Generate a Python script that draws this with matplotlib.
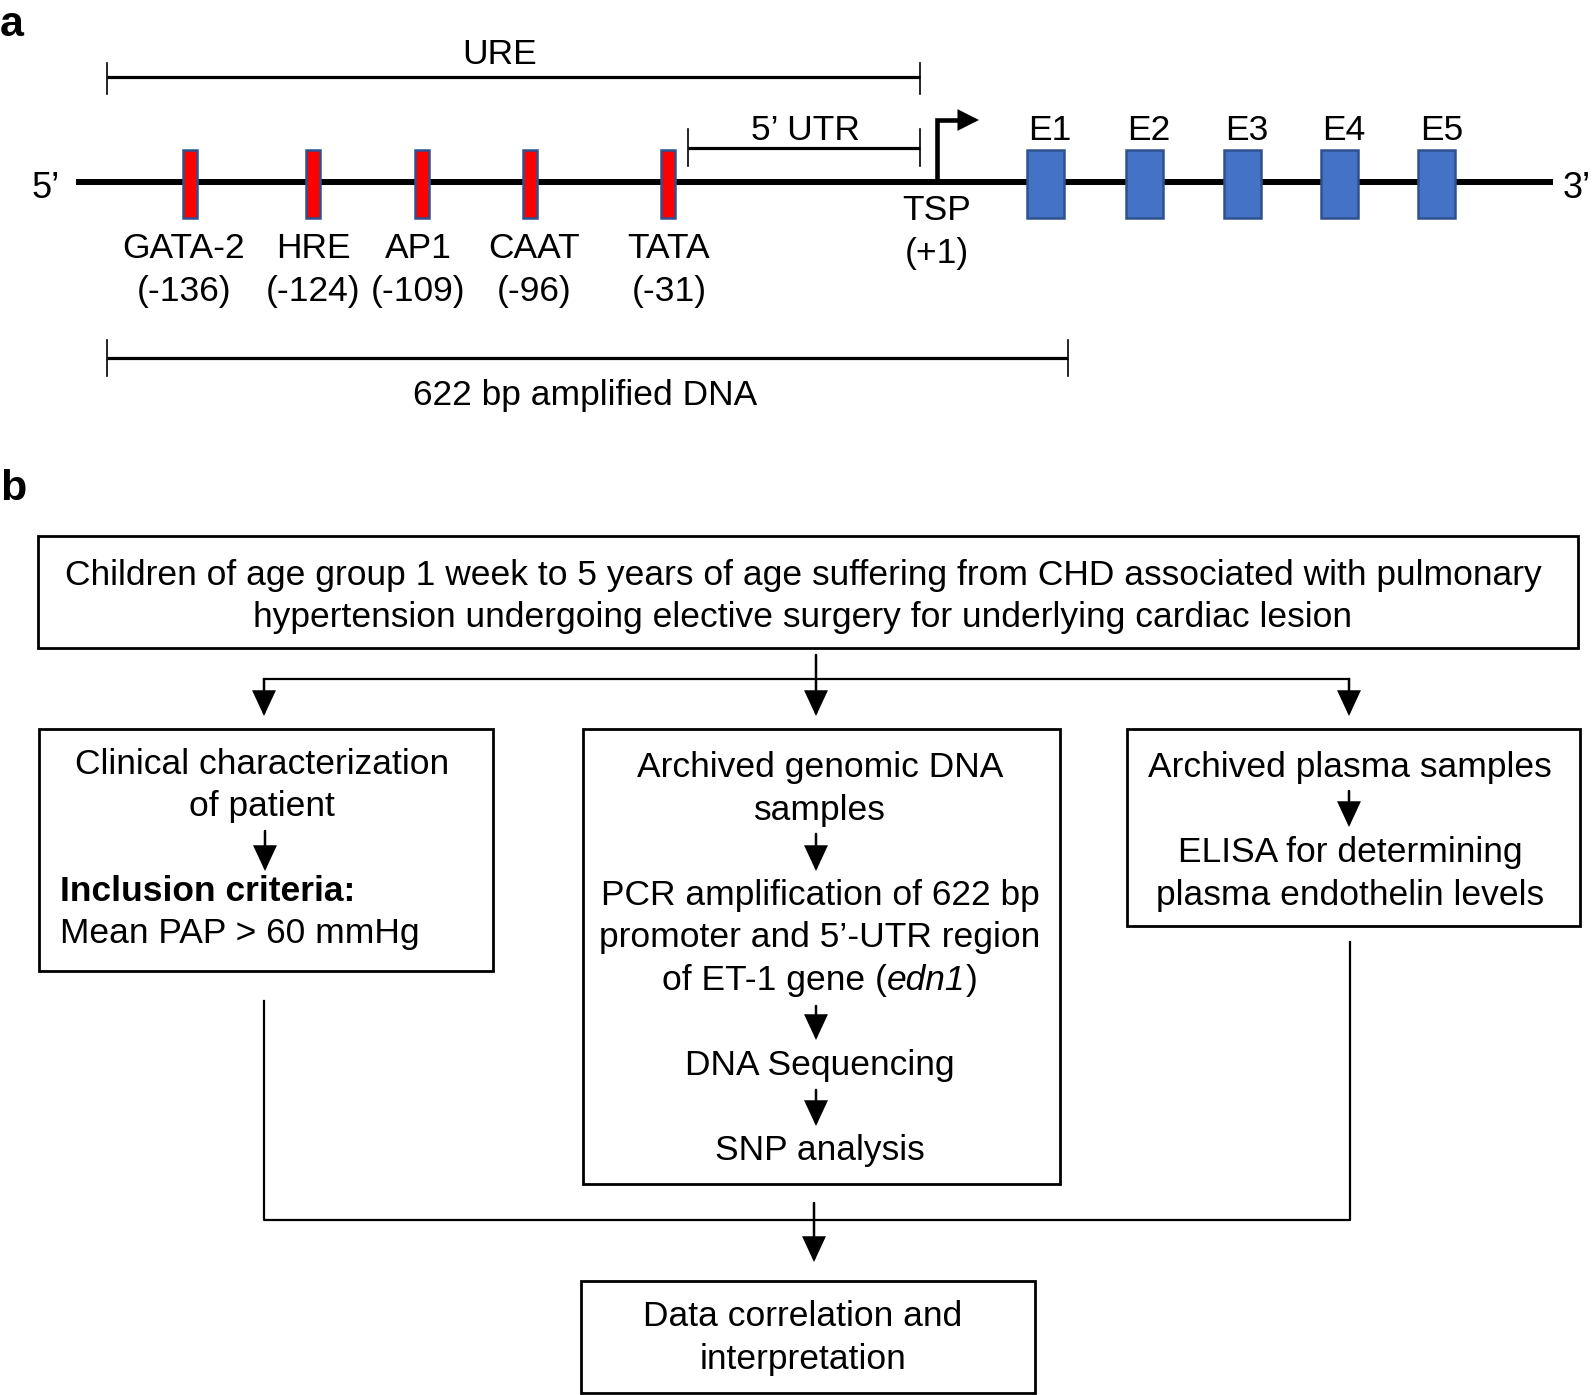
import matplotlib
matplotlib.use("Agg")
import matplotlib.pyplot as plt
from matplotlib.patches import Rectangle, FancyArrowPatch

plt.rcParams['font.family'] = ['Liberation Sans', 'DejaVu Sans']

# ---- data ----
elements = ["GATA-2", "HRE", "AP1", "CAAT", "TATA"]
element_pos = ["(-136)", "(-124)", "(-109)", "(-96)", "(-31)"]
exons = ["E1", "E2", "E3", "E4", "E5"]
top_text = ["Children of age group 1 week to 5 years of age suffering from CHD associated with pulmonary",
            "hypertension undergoing elective surgery for underlying cardiac lesion"]
left_text = ["Clinical characterization", "of patient"]
incl_title = "Inclusion criteria:"
incl_text = "Mean PAP > 60 mmHg"
mid_text1 = ["Archived genomic DNA", "samples"]
mid_text2 = ["PCR amplification of 622 bp", "promoter and 5\u2019-UTR region"]
mid_text2_last = [("of ET-1 gene (", "normal"), ("edn1", "italic"), (")", "normal")]
mid_text3 = "DNA Sequencing"
mid_text4 = "SNP analysis"
right_text1 = "Archived plasma samples"
right_text2 = ["ELISA for determining", "plasma endothelin levels"]
bottom_text = ["Data correlation and", "interpretation"]

# ---- layout (pixel coordinates) ----
W, H = 1594, 1395
fig = plt.figure(figsize=(W / 100, H / 100), dpi=100)
ax = fig.add_axes([0, 0, 1, 1])
ax.set_xlim(0, W)
ax.set_ylim(H, 0)
ax.axis('off')

FS = 25.5
DY = 2.5
elem_x = [190, 313, 422, 530, 668]
elem_lab_x = [184, 313, 418, 534, 669]
exon_x = [1046, 1145, 1243, 1340, 1437]
exon_lab_x = [1050, 1149, 1247, 1344, 1442]

def txt(x, y, s, ha='center', **kw):
    return ax.text(x, y + DY, s, ha=ha, va='center', fontsize=kw.pop('fs', FS), **kw)

def mixed(xc, y, parts):
    fig.canvas.draw()
    r = fig.canvas.get_renderer()
    objs = [txt(0, y, s, ha='left', style=st) for s, st in parts]
    widths = [o.get_window_extent(renderer=r).width for o in objs]
    x = xc - sum(widths) / 2
    for o, w in zip(objs, widths):
        o.set_x(x)
        x += w

def bracket(x0, x1, y, t0, t1, lw=2.3):
    ax.plot([x0, x1], [y, y], color='black', lw=lw, solid_capstyle='butt')
    for x in (x0, x1):
        ax.plot([x, x], [t0, t1], color='black', lw=1.2)

def arrow(x, y0, y1, lw=1.8):
    ax.add_patch(FancyArrowPatch((x, y0), (x, y1), arrowstyle='-|>,head_length=1.55,head_width=0.72',
                                 mutation_scale=10, lw=lw, color='black', shrinkA=0, shrinkB=0,
                                 joinstyle='miter'))

def box(x0, y0, x1, y1):
    ax.add_patch(Rectangle((x0, y0), x1 - x0, y1 - y0, fill=False, ec='black', lw=2.0))

# Panel a
txt(0, 22, "a", ha='left', fontweight='bold', fs=31)
bracket(107, 920, 77, 63, 94)
txt(500, 52, "URE")
bracket(688, 920, 148, 129, 166)
txt(805, 128, "5\u2019 UTR")
ax.plot([76, 1553], [182, 182], color='black', lw=4.3, solid_capstyle='butt', zorder=1)
txt(46, 186, "5\u2019", fs=26)
txt(1577, 186, "3\u2019", fs=26)
for x, lab, pos, lx in zip(elem_x, elements, element_pos, elem_lab_x):
    ax.add_patch(Rectangle((x - 7, 150), 14, 68, fc='#ff0000', ec='#2f528f', lw=1.8, zorder=2))
    txt(lx, 246, lab)
    txt(lx, 289, pos)
for x, lab, lx in zip(exon_x, exons, exon_lab_x):
    ax.add_patch(Rectangle((x - 18.5, 150), 37, 68, fc='#4472c4', ec='#2f528f', lw=1.8, zorder=2))
    txt(lx, 128, lab)
# TSP arrow
ax.plot([937.5, 937.5, 962], [182, 120, 120], color='black', lw=3.3, solid_joinstyle='miter')
ax.add_patch(FancyArrowPatch((956, 120), (979, 120), arrowstyle='-|>,head_length=1.55,head_width=0.78',
                             mutation_scale=10, lw=0, color='black', shrinkA=0, shrinkB=0))
txt(937, 208, "TSP")
txt(937, 251, "(+1)")
bracket(107, 1068, 358, 340, 376)
txt(585, 393, "622 bp amplified DNA")

# Panel b
txt(0, 487, "b", ha='left', fontweight='bold', fs=31)
box(38, 536, 1578, 648)
txt(803, 573, top_text[0])
txt(803, 615, top_text[1])

# split
ax.plot([264, 1349], [679, 679], color='black', lw=1.6)
arrow(816, 655, 716)
arrow(264, 679, 716)
arrow(1349, 679, 716)

# left box
box(39, 729, 493, 971)
txt(262, 762, left_text[0])
txt(262, 804, left_text[1])
arrow(265, 831, 871)
txt(60, 889, incl_title, ha='left', fontweight='bold')
txt(60, 931, incl_text, ha='left')

# middle box
box(583, 729, 1060, 1184)
txt(820, 765, mid_text1[0])
txt(820, 808, mid_text1[1])
arrow(816, 834, 871)
for i, s in enumerate(mid_text2):
    txt(820, 893 + i * 42.5, s)
mixed(820, 978, mid_text2_last)
arrow(816, 1006, 1040)
txt(820, 1063, mid_text3)
arrow(816, 1090, 1126)
txt(820, 1148, mid_text4)

# right box
box(1127, 729, 1580, 926)
txt(1350, 765, right_text1)
arrow(1349, 791, 827)
txt(1350, 850, right_text2[0])
txt(1350, 893, right_text2[1])

# join
ax.plot([264, 264, 1350, 1350], [1001, 1220, 1220, 942], color='black', lw=1.6)
arrow(814, 1203, 1262)

# bottom box
box(581, 1281, 1035, 1393)
txt(803, 1314, bottom_text[0])
txt(803, 1357, bottom_text[1])

fig.savefig("out.png", dpi=100)
